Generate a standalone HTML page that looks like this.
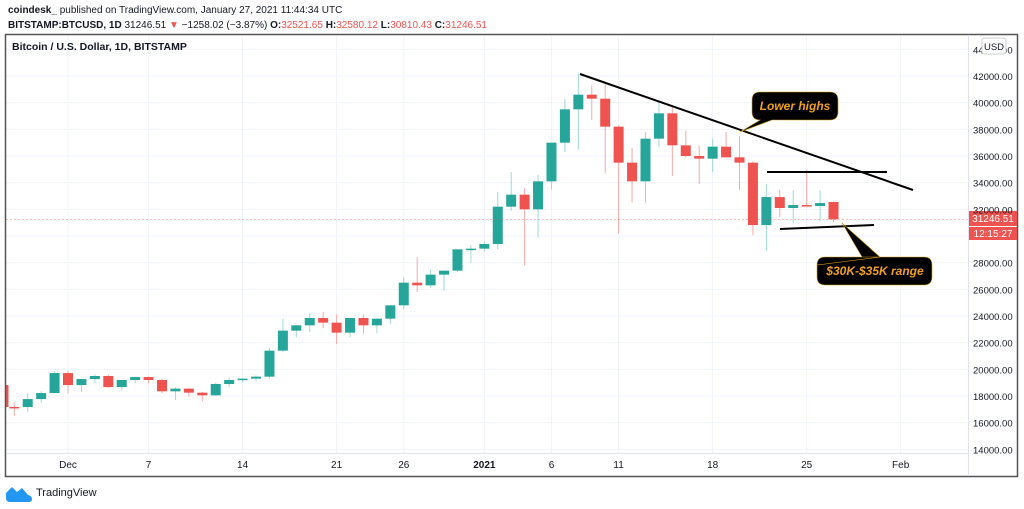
<!DOCTYPE html>
<html><head><meta charset="utf-8">
<style>
body{margin:0;background:#fff;width:1024px;height:504px;overflow:hidden;font-family:"Liberation Sans",sans-serif;}
</style></head><body>
<svg id="s" width="1024" height="504" xmlns="http://www.w3.org/2000/svg" font-family="Liberation Sans, sans-serif">
<text x="8" y="13" font-size="10" fill="#131722"><tspan font-weight="bold">coindesk_</tspan> published on TradingView.com, January 27, 2021 11:44:34 UTC</text>
<text x="8" y="28" font-size="10" fill="#131722" font-weight="bold">BITSTAMP:BTCUSD, 1D <tspan font-weight="normal">31246.51 </tspan><tspan fill="#ef5350">▼</tspan><tspan font-weight="normal"> −1258.02 (−3.87%) </tspan>O:<tspan fill="#ef5350" font-weight="normal">32521.65 </tspan>H:<tspan fill="#ef5350" font-weight="normal">32580.12 </tspan>L:<tspan fill="#ef5350" font-weight="normal">30810.43 </tspan>C:<tspan fill="#ef5350" font-weight="normal">31246.51</tspan></text>
<g id="grid"></g>
<g id="c"></g>
<rect x="5.5" y="34.5" width="1012" height="442" fill="none" stroke="#555" stroke-width="1.5"/>
<line x1="968.5" y1="35" x2="968.5" y2="476" stroke="#e0e3eb"/>
<line x1="6" y1="453.5" x2="968" y2="453.5" stroke="#e0e3eb"/>
<text x="12" y="50" font-size="10.5" font-weight="bold" fill="#131722">Bitcoin / U.S. Dollar, 1D, BITSTAMP</text>
<line x1="6" y1="219.5" x2="968" y2="219.5" stroke="#ef5350" stroke-width="0.6" stroke-dasharray="2,2" opacity="0.7"/>
<rect x="969" y="211" width="48" height="15" fill="#ef5350"/>
<text x="993" y="222" font-size="10" fill="#fff" text-anchor="middle">31246.51</text>
<rect x="969" y="227" width="48" height="13" fill="#ef5350"/>
<text x="993" y="237" font-size="10" fill="#fff" text-anchor="middle">12:15:27</text>
<line x1="580" y1="74" x2="913" y2="190" stroke="#000" stroke-width="2"/>
<line x1="767" y1="172" x2="887" y2="172" stroke="#000" stroke-width="2"/>
<line x1="780" y1="229" x2="874" y2="225" stroke="#000" stroke-width="2"/>
<path d="M752 100 q0-8 8-8 h70 q8 0 8 8 v12 q0 8-8 8 h-58 l-32 12 l20-12 q-8 0-8-8z" fill="#000" stroke="#d4a017" stroke-width="0.6"/>
<text x="795" y="110" font-size="12" font-weight="bold" font-style="italic" fill="#f0a020" text-anchor="middle">Lower highs</text>
<path d="M817 265 q0-8 8-8 h99 q8 0 8 8 v12 q0 8-8 8 h-99 q-8 0-8-8 v-12 q0-8 8-8 h37 l-20 -34 l38 34z" fill="#000" stroke="#d4a017" stroke-width="0.6"/>
<text x="875" y="275" font-size="12" font-weight="bold" font-style="italic" fill="#f0a020" text-anchor="middle">$30K-$35K range</text>
<g transform="translate(6,485)"><path d="M0 8 l6-6 l5 5 l5-4 l6 7 q4 1 4 4 q0 3-4 3 h-18 q-4 0-4-4z" fill="#2196f3"/></g>
<text x="36" y="496" font-size="11" fill="#131722">TradingView</text>
</svg>
<script>
const N='http://www.w3.org/2000/svg';
function y(p){return 76+(42000-p)*0.013333;}
function X(d){return 68+d*13.43;}
const grid=document.getElementById('grid'),cg=document.getElementById('c'),s=document.getElementById('s');
function el(t,a,p){const e=document.createElementNS(N,t);for(const k in a)e.setAttribute(k,a[k]);(p||s).appendChild(e);return e;}
for(let p=14000;p<=44000;p+=2000){const yy=y(p);if(yy<36||yy>452)continue;
 el('line',{x1:6,x2:968,y1:yy,y2:yy,stroke:'#f0f3fa'},grid);
 if(p==30000)continue;
 const t=el('text',{x:973,y:yy+4,'font-size':9.5,fill:'#131722'});t.textContent=p+'.00';}
el('rect',{x:982,y:38,width:24,height:16,rx:3,fill:'#fff',stroke:'#ccc'});
const us=el('text',{x:994,y:50,'font-size':9.5,fill:'#131722','text-anchor':'middle'});us.textContent='USD';
const xl=[['Dec',0],['7',6],['14',13],['21',20],['26',25],['2021',31],['6',36],['11',41],['18',48],['25',55],['Feb',62]];
xl.forEach(([l,d])=>{const xx=X(d);el('line',{x1:xx,x2:xx,y1:36,y2:453,stroke:'#f0f3fa'},grid);
 const t=el('text',{x:xx,y:468,'font-size':10,fill:'#131722','text-anchor':'middle','font-weight':l=='2021'?'bold':'normal'});t.textContent=l;});
const D=[
[18820,19300,16600,17170],[17180,17550,16500,17170],[17170,18200,16800,17770],[17770,18350,17500,18220],[18220,19850,18200,19720],
[19720,19900,18200,18820],[18820,19300,18300,19270],[19270,19600,18950,19500],[19500,19600,18600,18670],[18670,19200,18400,19200],[19200,19450,18950,19420],
[19420,19450,18950,19200],[19200,19300,18200,18350],[18350,18650,17700,18550],[18550,18600,17950,18250],[18250,18300,17600,18050],
[18050,19000,18000,18900],[18900,19400,18700,19200],[19200,19350,19000,19300],[19300,19550,19100,19450],[19450,21600,19300,21400],
[21400,23800,21300,22900],[22900,23300,22400,23300],[23300,24200,22800,23850],[23850,24300,23100,23500],[23500,24100,21900,22750],
[22750,23850,22400,23850],[23850,24100,22700,23300],[23300,23800,22700,23800],[23800,24800,23400,24800],[24800,26900,24500,26500],
[26500,28400,25800,26300],[26300,27500,26100,27100],[27100,27400,25900,27400],[27400,29000,27300,29000],[29000,29300,28000,29050],
[29050,29600,28800,29400],[29400,33300,29000,32200],[32200,34800,31900,33100],[33100,33600,27800,32000],[32000,34600,29900,34100],
[34100,37000,33500,37000],[37000,40300,36300,39500],[39500,42200,36500,40600],[40600,41300,38700,40300],[40300,41400,34700,38200],
[38200,38300,30200,35500],[35500,36600,32500,34100],[34100,37800,32500,37300],[37300,40000,36700,39200],[39200,39700,34500,36800],
[36800,37900,35900,36000],[36000,36800,33900,35800],[35800,37300,34800,36700],[36700,37800,35900,35900],[35900,37500,33450,35500],
[35500,35600,30070,30820],[30820,33900,28870,32920],[32920,33450,31420,32100],[32100,33450,30970,32320],[32320,34950,32250,32250],
[32250,33450,31100,32470],[32550,32580,31050,31250]];
D.forEach((c,i)=>{const d=i-5;let xx=X(d);const up=c[3]>c[0];const col=up?'#26a69a':'#ef5350';const wk=up?'#9ed9d3':'#f6a9a7';
 const t=Math.min(y(c[0]),y(c[3])),h=Math.max(1.5,Math.abs(y(c[0])-y(c[3])));
 if(i==0){el('rect',{x:6,y:t,width:2.5,height:h,fill:col},cg);return;}
 el('line',{x1:xx,x2:xx,y1:y(c[1]),y2:y(c[2]),stroke:wk,'stroke-width':1},cg);
 el('rect',{x:xx-5,y:t,width:10,height:h,fill:col},cg);});
</script>
</body></html>
